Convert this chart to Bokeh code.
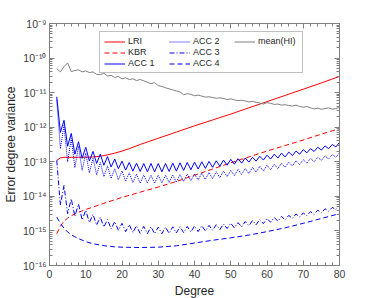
import numpy as np
from bokeh.plotting import figure
from bokeh.models import (LogAxis, LinearAxis, CustomJSTickFormatter, FixedTicker,
                          Legend, LegendItem)
from bokeh.embed import file_html
from bokeh.resources import INLINE

# ---- data (log10 of error degree variance) ----
degree = list(range(2, 81))

acc1_log = [-11.12, -12.15, -11.80, -12.55, -12.18, -12.78, -12.42, -12.90, -12.58, -12.98,
            -12.70, -13.05, -12.78, -13.10, -12.85, -13.15, -12.92, -13.20, -12.98, -13.24,
            -13.02, -13.27, -13.04, -13.28, -13.05, -13.29, -13.05, -13.29, -13.05, -13.29,
            -13.05, -13.28, -13.04, -13.27, -13.03, -13.25, -13.02, -13.23, -13.01, -13.21,
            -13.00, -13.19, -12.99, -13.16, -12.97, -13.13, -12.95, -13.10, -12.93, -13.07,
            -12.91, -13.04, -12.89, -13.01, -12.87, -12.98, -12.84, -12.95, -12.81, -12.92,
            -12.78, -12.89, -12.75, -12.86, -12.72, -12.82, -12.69, -12.78, -12.65, -12.74,
            -12.62, -12.70, -12.58, -12.66, -12.54, -12.62, -12.50, -12.57, -12.44]

acc2_log = [-11.20, -12.62, -11.95, -13.00, -12.33, -13.17, -12.55, -13.25, -12.75, -13.32,
            -12.90, -13.38, -13.02, -13.43, -13.12, -13.48, -13.20, -13.52, -13.27, -13.56,
            -13.32, -13.60, -13.36, -13.62, -13.38, -13.62, -13.39, -13.62, -13.39, -13.61,
            -13.39, -13.60, -13.38, -13.59, -13.37, -13.57, -13.36, -13.55, -13.35, -13.53,
            -13.33, -13.51, -13.31, -13.49, -13.29, -13.46, -13.27, -13.43, -13.25, -13.40,
            -13.22, -13.37, -13.19, -13.34, -13.16, -13.30, -13.13, -13.27, -13.10, -13.23,
            -13.07, -13.20, -13.04, -13.16, -13.01, -13.12, -12.97, -13.08, -12.94, -13.04,
            -12.90, -13.00, -12.87, -12.96, -12.83, -12.92, -12.79, -12.87, -12.74]

acc3_log = [-12.96, -14.25, -13.68, -14.50, -14.07, -14.58, -14.22, -14.68, -14.40, -14.76,
            -14.52, -14.83, -14.60, -14.89, -14.67, -14.94, -14.73, -14.98, -14.78, -15.02,
            -14.82, -15.05, -14.85, -15.07, -14.87, -15.08, -14.88, -15.08, -14.89, -15.08,
            -14.89, -15.07, -14.88, -15.06, -14.88, -15.05, -14.87, -15.03, -14.86, -15.02,
            -14.85, -15.00, -14.84, -14.98, -14.82, -14.96, -14.80, -14.93, -14.78, -14.91,
            -14.76, -14.88, -14.73, -14.85, -14.70, -14.82, -14.67, -14.79, -14.64, -14.75,
            -14.61, -14.72, -14.58, -14.68, -14.55, -14.64, -14.51, -14.60, -14.48, -14.56,
            -14.44, -14.52, -14.40, -14.48, -14.36, -14.43, -14.32, -14.38, -14.26]

meanhi_log = [-10.31, -10.40, -10.25, -10.14, -10.39, -10.36, -10.34, -10.40, -10.37, -10.42,
              -10.40, -10.47, -10.48, -10.44, -10.52, -10.50, -10.56, -10.53, -10.60, -10.57,
              -10.62, -10.60, -10.65, -10.62, -10.66, -10.70, -10.74, -10.71, -10.80, -10.82,
              -10.86, -10.89, -10.92, -10.95, -10.98, -11.06, -11.03, -11.05, -11.09, -11.07,
              -11.10, -11.13, -11.12, -11.14, -11.16, -11.15, -11.17, -11.20, -11.18, -11.21,
              -11.23, -11.22, -11.24, -11.27, -11.25, -11.28, -11.30, -11.33, -11.29, -11.31,
              -11.34, -11.33, -11.36, -11.35, -11.37, -11.39, -11.36, -11.40, -11.42, -11.40,
              -11.44, -11.47, -11.45, -11.48, -11.46, -11.44, -11.48, -11.46, -11.43]

acc4_deg = [2, 3, 4, 5, 6, 7, 8, 10, 12, 14, 16, 18, 20, 25, 30, 35, 40, 45, 50, 55, 60, 65, 70, 75, 80]
acc4_log = [-14.60, -14.78, -14.92, -15.03, -15.11, -15.17, -15.22, -15.31, -15.37, -15.41,
            -15.44, -15.46, -15.47, -15.48, -15.47, -15.43, -15.35, -15.27, -15.20, -15.12,
            -15.02, -14.91, -14.78, -14.64, -14.50]

kbr_deg = [2, 3, 4, 5, 6, 8, 10, 12, 15, 20, 25, 30, 35, 40, 45, 50, 55, 60, 65, 70, 75, 80]
kbr_log = [-15.08, -14.86, -14.72, -14.63, -14.56, -14.46, -14.38, -14.31, -14.20, -14.03,
           -13.88, -13.73, -13.57, -13.39, -13.21, -13.03, -12.86, -12.69, -12.53, -12.37,
           -12.20, -12.04]

lri_deg = [2, 3, 4, 6, 8, 10, 12, 14, 16, 18, 20, 22, 25, 30, 35, 40, 45, 50, 55, 60, 65, 70, 75, 80]
lri_log = [-12.96, -12.89, -12.87, -12.87, -12.87, -12.87, -12.86, -12.84, -12.80, -12.75,
           -12.69, -12.62, -12.50, -12.32, -12.14, -11.96, -11.79, -11.62, -11.44, -11.26,
           -11.08, -10.90, -10.72, -10.53]

x_ticks = [0, 10, 20, 30, 40, 50, 60, 70, 80]
y_tick_exponents = [-16, -15, -14, -13, -12, -11, -10, -9]

FONT = "Liberation Sans"

def to_val(lst):
    return (10.0 ** np.array(lst)).tolist()

p = figure(frame_width=290, frame_height=242, y_axis_type="log",
           x_range=(0, 80), y_range=(1e-16, 1e-9),
           output_backend="svg", toolbar_location=None,
           min_border_left=40, min_border_right=10, min_border_top=23, min_border_bottom=20)
p.background_fill_color = "white"
p.border_fill_color = "white"
p.grid.visible = False
p.outline_line_color = "#808080"

y_major = [10.0 ** e for e in y_tick_exponents]
y_minor = [k * 10.0 ** e for e in y_tick_exponents[:-1] for k in range(1, 10)] + [1e-9]
x_minor = list(range(0, 81, 2))

fmt_js = """
const sup = {'-':'\u207b','0':'\u2070','1':'\u00b9','2':'\u00b2','3':'\u00b3','4':'\u2074',
             '5':'\u2075','6':'\u2076','7':'\u2077','8':'\u2078','9':'\u2079'};
const e = Math.round(Math.log10(tick));
return '10' + String(e).split('').map(c => sup[c]).join('');
"""
blank_js = "return '';"

def style_axis(ax):
    ax.axis_line_color = "#808080"
    ax.major_tick_line_color = "#808080"
    ax.minor_tick_line_color = "#808080"
    ax.major_tick_in = 5
    ax.major_tick_out = 0
    ax.minor_tick_in = 3
    ax.minor_tick_out = 0
    ax.major_label_text_font = FONT
    ax.major_label_text_font_size = "10.5px"
    ax.major_label_text_color = "#404040"
    ax.axis_label_text_font = FONT
    ax.axis_label_text_font_size = "12px"
    ax.axis_label_text_font_style = "normal"
    ax.axis_label_text_color = "#262626"

xa = p.xaxis[0]
xa.ticker = FixedTicker(ticks=x_ticks, minor_ticks=x_minor)
xa.axis_label = "Degree"
style_axis(xa)
xa.major_label_standoff = 4
xa.axis_label_standoff = 3

ya = p.yaxis[0]
ya.ticker = FixedTicker(ticks=y_major, minor_ticks=y_minor)
ya.formatter = CustomJSTickFormatter(code=fmt_js)
ya.axis_label = "Error degree variance"
style_axis(ya)
ya.major_label_standoff = 3
ya.axis_label_standoff = 2

top = LinearAxis(ticker=FixedTicker(ticks=x_ticks, minor_ticks=x_minor),
                 formatter=CustomJSTickFormatter(code=blank_js))
style_axis(top)
top.major_label_standoff = 0
p.add_layout(top, "above")

right = LogAxis(ticker=FixedTicker(ticks=y_major, minor_ticks=y_minor),
                formatter=CustomJSTickFormatter(code=blank_js))
style_axis(right)
right.major_label_standoff = 0
p.add_layout(right, "right")

BLUE = "#0000ff"
RED = "#ff0000"
r_lri = p.line(lri_deg, to_val(lri_log), line_color=RED, line_width=1)
r_kbr = p.line(kbr_deg, to_val(kbr_log), line_color=RED, line_width=1, line_dash="5 3")
r_a1 = p.line(degree, to_val(acc1_log), line_color=BLUE, line_width=1)
r_a2 = p.line(degree, to_val(acc2_log), line_color=BLUE, line_width=1, line_dash="1 1")
r_a3 = p.line(degree, to_val(acc3_log), line_color=BLUE, line_width=1, line_dash="5 2 1 2")
r_a4 = p.line(acc4_deg, to_val(acc4_log), line_color=BLUE, line_width=1, line_dash="5 3")
r_hi = p.line(degree, to_val(meanhi_log), line_color="#808080", line_width=1)

legend = Legend(items=[
    LegendItem(label="LRI", renderers=[r_lri]),
    LegendItem(label="KBR", renderers=[r_kbr]),
    LegendItem(label="ACC 1", renderers=[r_a1]),
    LegendItem(label="ACC 2", renderers=[r_a2]),
    LegendItem(label="ACC 3", renderers=[r_a3]),
    LegendItem(label="ACC 4", renderers=[r_a4]),
    LegendItem(label="mean(HI)", renderers=[r_hi]),
], location=(50, 192), nrows=3)
legend.label_text_font = FONT
legend.label_text_font_size = "9px"
legend.label_text_color = "#262626"
legend.glyph_width = 21
legend.glyph_height = 7
legend.label_height = 10
legend.label_width = 40
legend.label_standoff = 3
legend.spacing = 1
legend.padding = 4
legend.margin = 0
legend.border_line_color = "#808080"
legend.border_line_width = 1
legend.background_fill_alpha = 1
p.add_layout(legend)

open("out.html", "w").write(file_html(p, INLINE))
